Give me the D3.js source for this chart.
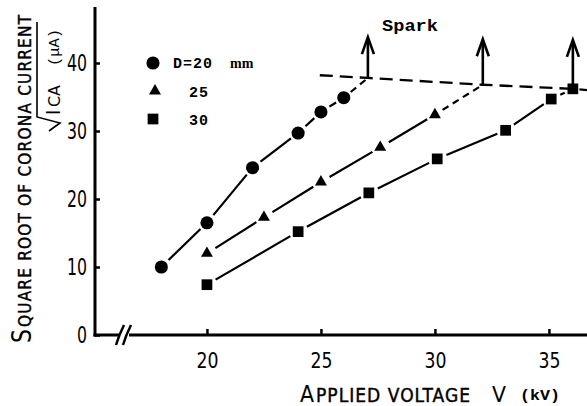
<!DOCTYPE html>
<html><head><meta charset="utf-8">
<script src="https://cdn.jsdelivr.net/npm/d3@7"></script>
<style>
body{margin:0;background:#fff;}
svg{display:block;}
.narrow{font-family:"Liberation Sans Narrow","DejaVu Sans Condensed","Liberation Sans",sans-serif;}
.mono{font-family:"Liberation Mono","DejaVu Sans Mono",monospace;}
</style></head>
<body>
<svg id="c" width="587" height="406"></svg>
<script>
// ---- data ----
const xTicks = [20, 25, 30, 35];
const yTicks = [0, 10, 20, 30, 40];
const legendLabels = ["D=20", "25", "30"];
const circleV = [18, 20, 22, 24, 25, 26];
const circleI = [10, 16.5, 24.6, 29.7, 32.8, 34.9];
const triV = [20, 22.5, 25, 27.6, 30];
const triI = [12, 17.3, 22.5, 27.6, 32.4];
const sqV = [20, 24, 27.1, 30.1, 33.1, 35.1, 36.05];
const sqI = [7.4, 15.2, 20.9, 25.9, 30.1, 34.7, 36.2];
const sparkV = [27.06, 32.1, 36.05];
const sparkI = [37.8, 36.8, 36.2];
const arrowTopI = [43.8, 43.5, 43.4];
const boundaryV = [24.95, 27.06, 32.1, 36.05, 36.7];
const boundaryI = [38.2, 37.8, 36.8, 36.2, 36.0];

const svg = d3.select("#c");
const x = d3.scaleLinear().domain([15.09, 36.67]).range([95, 587]);
const y = d3.scaleLinear().domain([0, 40]).range([335, 63]);
const yTop = 7;

// ---- axes ----
const xAxis = svg.append("g").attr("transform", "translate(0,335)")
  .call(d3.axisBottom(x).tickValues(xTicks).tickSize(-6).tickPadding(12).tickFormat(d3.format("d")));
xAxis.select(".domain").remove();
xAxis.selectAll(".tick line").attr("stroke", "#000").attr("stroke-width", 2.5);
xAxis.selectAll(".tick text").attr("class", "narrow").attr("font-size", 22).attr("fill", "#000")
  .attr("dy", "0.71em").attr("y", 17)
  .attr("textLength", d => String(d).length * 11).attr("lengthAdjust", "spacingAndGlyphs");

const yAxis = svg.append("g").attr("transform", "translate(95,0)")
  .call(d3.axisLeft(y).tickValues(yTicks).tickSize(-5).tickPadding(8).tickFormat(d3.format("d")));
yAxis.select(".domain").remove();
yAxis.selectAll(".tick line").attr("stroke", "#000").attr("stroke-width", 2.5);
yAxis.selectAll(".tick text").attr("class", "narrow").attr("font-size", 23).attr("fill", "#000").attr("x", -8)
  .attr("textLength", d => String(d).length * 10).attr("lengthAdjust", "spacingAndGlyphs");

// axis lines (with break on x axis)
svg.append("line").attr("x1", 95).attr("x2", 95).attr("y1", yTop).attr("y2", 336.5)
  .attr("stroke", "#000").attr("stroke-width", 3);
svg.append("line").attr("x1", 93.5).attr("x2", 119).attr("y1", 335).attr("y2", 335)
  .attr("stroke", "#000").attr("stroke-width", 3);
svg.append("line").attr("x1", 129).attr("x2", 587).attr("y1", 335).attr("y2", 335)
  .attr("stroke", "#000").attr("stroke-width", 3);
[120, 127].forEach(bx => {
  svg.append("path").attr("d", `M${bx-4},${345} Q${bx-1},${335} ${bx+4},${325}`)
    .attr("fill", "none").attr("stroke", "#000").attr("stroke-width", 2.5);
});

// ---- axis titles ----
const yl = svg.append("g").attr("transform", "translate(31,0) rotate(-90)").attr("class", "narrow");
yl.append("text").attr("x", -343).attr("y", 0).attr("font-size", 27).attr("textLength", 14)
  .attr("lengthAdjust", "spacingAndGlyphs").text("S");
yl.append("text").attr("x", -327).attr("y", 0).attr("font-size", 17).attr("textLength", 312)
  .attr("lengthAdjust", "spacing").attr("stroke", "#000").attr("stroke-width", 0.4).text("QUARE ROOT OF CORONA CURRENT");

// sqrt(ICA) (uA)
const radical = d3.path();
radical.moveTo(49, 131); radical.lineTo(53, 128); radical.lineTo(60, 123);
radical.lineTo(37, 117); radical.lineTo(37, 22);
svg.append("path").attr("d", radical.toString()).attr("fill", "none").attr("stroke", "#000").attr("stroke-width", 1.6);
const yl2 = svg.append("g").attr("transform", "translate(60,0) rotate(-90)");
yl2.append("text").attr("class", "narrow").attr("x", -115).attr("y", 0).attr("font-size", 20).text("I");
yl2.append("text").attr("class", "narrow").attr("x", -107).attr("y", 0).attr("font-size", 15)
  .attr("textLength", 22).attr("lengthAdjust", "spacingAndGlyphs").text("CA");
yl2.append("text").attr("class", "mono").attr("x", -66).attr("y", -1).attr("font-size", 14)
  .attr("textLength", 37).attr("lengthAdjust", "spacingAndGlyphs").text("(μA)");

// x title
const xl = svg.append("g").attr("class", "narrow");
xl.append("text").attr("x", 300).attr("y", 402).attr("font-size", 23).attr("textLength", 14)
  .attr("lengthAdjust", "spacingAndGlyphs").text("A");
xl.append("text").attr("x", 316).attr("y", 402).attr("font-size", 19).attr("textLength", 154)
  .attr("lengthAdjust", "spacing").attr("stroke", "#000").attr("stroke-width", 0.4).text("PPLIED VOLTAGE");
xl.append("text").attr("x", 492).attr("y", 402).attr("font-size", 21).attr("textLength", 14)
  .attr("lengthAdjust", "spacingAndGlyphs").text("V");
svg.append("text").attr("class", "mono").attr("x", 520).attr("y", 400).attr("font-size", 15)
  .attr("textLength", 40).attr("lengthAdjust", "spacingAndGlyphs").attr("font-weight", "bold").text("(kV)");

// ---- series lines (segments with gaps around markers) ----
function seg(x1, y1, x2, y2, g1, g2, dash) {
  const dx = x2 - x1, dy = y2 - y1, L = Math.hypot(dx, dy);
  const ux = dx / L, uy = dy / L;
  svg.append("line")
    .attr("x1", x1 + ux * g1).attr("y1", y1 + uy * g1)
    .attr("x2", x2 - ux * g2).attr("y2", y2 - uy * g2)
    .attr("stroke", "#000").attr("stroke-width", 2.2)
    .attr("stroke-dasharray", dash || null);
}
function drawSeries(vs, is, sparkIdx) {
  for (let k = 0; k < vs.length - 1; k++) {
    seg(x(vs[k]), y(is[k]), x(vs[k+1]), y(is[k+1]), 10, 9, null);
  }
  if (sparkIdx != null) {
    const last = vs.length - 1;
    seg(x(vs[last]), y(is[last]), x(sparkV[sparkIdx]), y(sparkI[sparkIdx]), 9, 0, "7,5");
  }
}
drawSeries(circleV, circleI, 0);
drawSeries(triV, triI, 1);
drawSeries(sqV, sqI, null);

// spark boundary
svg.append("path")
  .attr("d", d3.line().x((d, i) => x(boundaryV[i])).y((d, i) => y(boundaryI[i]))(boundaryV))
  .attr("fill", "none").attr("stroke", "#000").attr("stroke-width", 2.3).attr("stroke-dasharray", "13,7");

// arrows
sparkV.forEach((v, i) => {
  const ax = x(v), ay0 = y(sparkI[i]), ay1 = y(arrowTopI[i]);
  svg.append("line").attr("x1", ax).attr("x2", ax).attr("y1", ay0).attr("y2", ay1 + 1)
    .attr("stroke", "#000").attr("stroke-width", 2.6);
  svg.append("path").attr("d", `M${ax-6},${ay1+17} L${ax},${ay1} L${ax+6},${ay1+17}`)
    .attr("fill", "none").attr("stroke", "#000").attr("stroke-width", 2.6);
});
svg.append("text").attr("class", "mono").attr("x", 382).attr("y", 31).attr("font-size", 17)
  .attr("font-weight", "bold").attr("textLength", 56).attr("lengthAdjust", "spacingAndGlyphs").text("Spark");

// markers
const circ = d3.symbol().type(d3.symbolCircle).size(135);
const tri = d3.symbol().type(d3.symbolTriangle).size(62);
const sq = d3.symbol().type(d3.symbolSquare).size(115);
svg.selectAll(".mc").data(circleV).join("path").attr("d", circ)
  .attr("transform", (d, i) => `translate(${x(d)},${y(circleI[i])})`).attr("fill", "#000");
svg.selectAll(".mt").data(triV).join("path").attr("d", tri)
  .attr("transform", (d, i) => `translate(${x(d)},${y(triI[i])})`).attr("fill", "#000");
svg.selectAll(".ms").data(sqV).join("path").attr("d", sq)
  .attr("transform", (d, i) => `translate(${x(d)},${y(sqI[i])})`).attr("fill", "#000");

// legend
const lg = [
  {sym: circ, cx: 153, cy: 63, tx: 173, ty: 68},
  {sym: tri, cx: 155, cy: 91, tx: 189, ty: 97},
  {sym: sq, cx: 153, cy: 119, tx: 189, ty: 125}
];
lg.forEach((d, i) => {
  svg.append("path").attr("d", d.sym).attr("transform", `translate(${d.cx},${d.cy})`).attr("fill", "#000");
  svg.append("text").attr("class", "mono").attr("x", d.tx).attr("y", d.ty).attr("font-size", 15)
    .attr("font-weight", "bold").attr("letter-spacing", 1).text(legendLabels[i]);
});
svg.append("text").attr("x", 230).attr("y", 68).attr("font-size", 14)
  .attr("font-family", "Liberation Serif, serif").attr("font-weight", "bold").text("mm");
</script>
</body></html>
